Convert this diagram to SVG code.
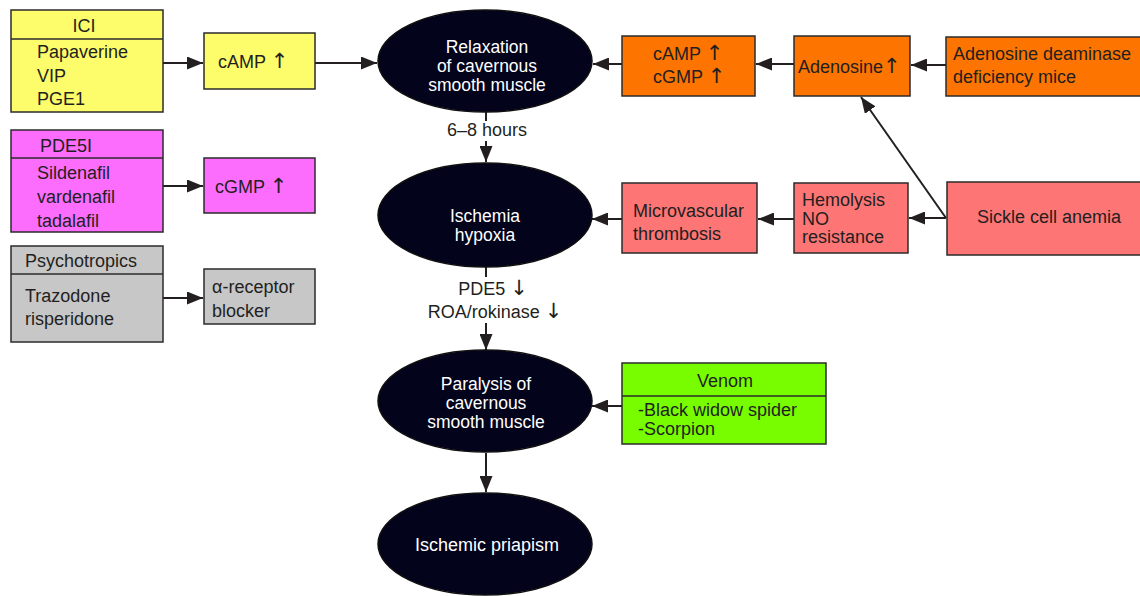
<svg xmlns="http://www.w3.org/2000/svg" width="1140" height="596" viewBox="0 0 1140 596">
<style>
text{font-family:"Liberation Sans",Arial,sans-serif;font-size:18px;fill:#231f20}
.ar{font-family:"DejaVu Sans",sans-serif;font-size:21px}
.w{fill:#ffffff;text-anchor:middle;font-size:17.5px}
.m{text-anchor:middle}
.box{stroke:#2b2b2b;stroke-width:1.5}
.ell{fill:#03031c;stroke:#111;stroke-width:1.5}
.yel{fill:#fdfd6b}.mag{fill:#fd6dfd}.gry{fill:#c7c7c7}.org{fill:#fd7400}.sal{fill:#fd7575}.grn{fill:#77fc00}
.c{fill:none;stroke:#231f20;stroke-width:2}
</style>
<defs>
<marker id="ah" markerUnits="userSpaceOnUse" markerWidth="17" markerHeight="13" refX="16" refY="6.5" orient="auto">
<path d="M0,0 L16,6.5 L0,13 z" fill="#231f20"/>
</marker>
</defs>
<g id="connectors">
<path class="c" d="M163,63 H203" marker-end="url(#ah)"/>
<path class="c" d="M315,63 H377" marker-end="url(#ah)"/>
<path class="c" d="M163,186 H203" marker-end="url(#ah)"/>
<path class="c" d="M163,298 H203" marker-end="url(#ah)"/>
<path class="c" d="M486,112 V121 M486,141 V162" marker-end="url(#ah)"/>
<path class="c" d="M486,267 V277 M486,323 V350" marker-end="url(#ah)"/>
<path class="c" d="M486,453 V492" marker-end="url(#ah)"/>
<path class="c" d="M622,64 H593" marker-end="url(#ah)"/>
<path class="c" d="M794,64 H756" marker-end="url(#ah)"/>
<path class="c" d="M946,65 H911" marker-end="url(#ah)"/>
<path class="c" d="M946,218 H909" marker-end="url(#ah)"/>
<path class="c" d="M794,219 H758" marker-end="url(#ah)"/>
<path class="c" d="M622,219 H592" marker-end="url(#ah)"/>
<path class="c" d="M946,218 L861,97" marker-end="url(#ah)"/>
<path class="c" d="M622,406 H592" marker-end="url(#ah)"/>
<text class="m" x="487" y="136">6–8 hours</text>
<text class="m" x="493" y="295">PDE5 <tspan class="ar">↓</tspan></text>
<text class="m" x="495" y="318">ROA/rokinase <tspan class="ar">↓</tspan></text>
</g>
<g id="ici">
<rect class="box yel" x="11" y="10" width="152" height="102"/>
<line class="box" x1="11" y1="39" x2="163" y2="39"/>
<text class="m" x="84" y="32">ICI</text>
<text x="37" y="58">Papaverine</text>
<text x="37" y="82">VIP</text>
<text x="37" y="105">PGE1</text>
</g>
<g id="camp1">
<rect class="box yel" x="204" y="33" width="111" height="56"/>
<text x="218" y="68">cAMP <tspan class="ar">↑</tspan></text>
</g>
<g id="pde5i">
<rect class="box mag" x="11" y="130" width="152" height="102"/>
<line class="box" x1="11" y1="158" x2="163" y2="158"/>
<text x="40" y="152">PDE5I</text>
<text x="37" y="179">Sildenafil</text>
<text x="37" y="203">vardenafil</text>
<text x="37" y="227">tadalafil</text>
</g>
<g id="cgmp1">
<rect class="box mag" x="204" y="158" width="111" height="55"/>
<text x="215" y="193">cGMP <tspan class="ar">↑</tspan></text>
</g>
<g id="psych">
<rect class="box gry" x="11" y="246" width="152" height="96"/>
<line class="box" x1="11" y1="274" x2="163" y2="274"/>
<text x="25" y="267">Psychotropics</text>
<text x="25" y="302">Trazodone</text>
<text x="25" y="325">risperidone</text>
</g>
<g id="alpha">
<rect class="box gry" x="204" y="269" width="111" height="55"/>
<text x="212" y="293">α-receptor</text>
<text x="212" y="317">blocker</text>
</g>
<g id="relax">
<ellipse class="ell" cx="485" cy="61" rx="107" ry="51"/>
<text class="w" x="487" y="53">Relaxation</text>
<text class="w" x="487" y="72">of cavernous</text>
<text class="w" x="487" y="91">smooth muscle</text>
</g>
<g id="ischemia">
<ellipse class="ell" cx="485" cy="215" rx="107" ry="52"/>
<text class="w" x="485" y="222">Ischemia</text>
<text class="w" x="485" y="241">hypoxia</text>
</g>
<g id="paralysis">
<ellipse class="ell" cx="485" cy="401" rx="107" ry="51"/>
<text class="w" x="486" y="390">Paralysis of</text>
<text class="w" x="486" y="409">cavernous</text>
<text class="w" x="486" y="428">smooth muscle</text>
</g>
<g id="priapism">
<ellipse class="ell" cx="485" cy="544" rx="107" ry="51"/>
<text class="w" x="487" y="551" style="font-size:18px">Ischemic priapism</text>
</g>
<g id="campcgmp">
<rect class="box org" x="622" y="36" width="133" height="60"/>
<text x="653" y="60">cAMP <tspan class="ar">↑</tspan></text>
<text x="653" y="83">cGMP <tspan class="ar">↑</tspan></text>
</g>
<g id="adenosine">
<rect class="box org" x="794" y="36" width="116" height="60"/>
<text x="798" y="73">Adenosine<tspan class="ar">↑</tspan></text>
</g>
<g id="ada">
<rect class="box org" x="946" y="37" width="200" height="59"/>
<text x="953" y="60">Adenosine deaminase</text>
<text x="953" y="83">deficiency mice</text>
</g>
<g id="microvascular">
<rect class="box sal" x="622" y="183" width="135" height="70"/>
<text x="633" y="217">Microvascular</text>
<text x="633" y="240">thrombosis</text>
</g>
<g id="hemolysis">
<rect class="box sal" x="794" y="183" width="114" height="70"/>
<text x="802" y="206">Hemolysis</text>
<text x="802" y="225">NO</text>
<text x="802" y="243">resistance</text>
</g>
<g id="sickle">
<rect class="box sal" x="947" y="182" width="199" height="73"/>
<text x="977" y="223">Sickle cell anemia</text>
</g>
<g id="venom">
<rect class="box grn" x="622" y="363" width="204" height="81"/>
<line class="box" x1="622" y1="396" x2="826" y2="396"/>
<text class="m" x="725" y="387">Venom</text>
<text x="638" y="416">-Black widow spider</text>
<text x="638" y="435">-Scorpion</text>
</g>
</svg>
